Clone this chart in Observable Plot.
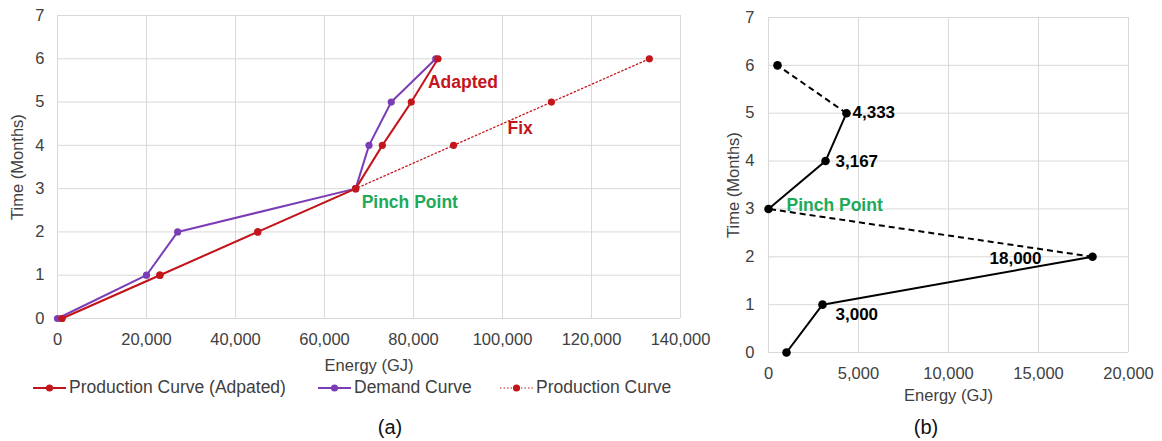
<!DOCTYPE html>
<html><head><meta charset="utf-8">
<script src="https://cdn.jsdelivr.net/npm/d3@7"></script>
<script src="https://cdn.jsdelivr.net/npm/@observablehq/plot@0.6"></script>
<style>
body{margin:0;background:#fff;font-family:"Liberation Sans",Arial,sans-serif;}
#wrap{position:relative;width:1162px;height:441px;overflow:hidden;}
.abs{position:absolute;}
.cap{position:absolute;font-size:20px;color:#111;transform:translateX(-50%);}
.leg{position:absolute;top:377px;font-size:17.5px;color:#404040;display:flex;align-items:center;white-space:nowrap;}
.leg svg{margin-right:3px;}
</style></head>
<body><div id="wrap"></div>
<script>
// ---------- data ----------
const months = [0, 1, 2, 3, 4, 5, 6];
const demandEnergy = [0, 20000, 27000, 67000, 70000, 75000, 85000];
const adaptedEnergy = [1000, 23000, 45000, 67000, 73000, 79500, 85500];
const productionEnergy = [1000, 23000, 45000, 67000, 89000, 111000, 133000];
const netEnergy = [1000, 3000, 18000, 0, 3167, 4333, 500];
const netDashed = [false, false, true, false, false, true]; // segment i -> i+1
const netLabelled = [1, 2, 4, 5];
const xTicksA = [0, 20000, 40000, 60000, 80000, 100000, 120000, 140000];
const xTicksB = [0, 5000, 10000, 15000, 20000];
const yTicks = [0, 1, 2, 3, 4, 5, 6, 7];

const RED = "#c3161c", PURPLE = "#7b3db5", GREEN = "#1eaa58", GRID = "#d9d9d9";
const FONT = "Liberation Sans, Arial, sans-serif";
const fmt = d3.format(",");
const yfmt = d3.format("d");
const LBL = 17.5;

const wrap = document.getElementById("wrap");
function place(el, left, top){ el.classList.add("abs"); el.style.left = left+"px"; el.style.top = top+"px"; wrap.appendChild(el); }

const tbl = (xs) => months.map((m,i)=>({x: xs[i], y: m}));
const demand = tbl(demandEnergy), adapted = tbl(adaptedEnergy), production = tbl(productionEnergy);

// ---------- panel (a) ----------
const plotA = Plot.plot({
  width: 730, height: 375,
  marginLeft: 57, marginRight: 50, marginTop: 15, marginBottom: 57,
  style: {fontFamily: FONT, fontSize: "16.5px", color: "#404040", background: "transparent", overflow: "visible"},
  x: {domain: [0, 140000], ticks: xTicksA, tickFormat: fmt, tickSize: 0, tickPadding: 15,
      label: "Energy (GJ)", labelAnchor: "center", labelArrow: "none", labelOffset: 52},
  y: {domain: [0, 7], ticks: yTicks, tickFormat: yfmt, tickSize: 0, tickPadding: 13,
      label: "Time (Months)", labelAnchor: "center", labelArrow: "none", labelOffset: 46},
  marks: [
    Plot.ruleX(xTicksA, {stroke: GRID, strokeWidth: 1}),
    Plot.ruleY(yTicks, {stroke: GRID, strokeWidth: 1}),
    Plot.line(production, {x: "x", y: "y", stroke: RED, strokeWidth: 1.3, strokeDasharray: "1.5,2.5"}),
    Plot.dot(production, {x: "x", y: "y", r: 3.6, fill: RED}),
    Plot.line(demand, {x: "x", y: "y", stroke: PURPLE, strokeWidth: 2}),
    Plot.dot(demand, {x: "x", y: "y", r: 3.6, fill: PURPLE}),
    Plot.line(adapted, {x: "x", y: "y", stroke: RED, strokeWidth: 2}),
    Plot.dot(adapted, {x: "x", y: "y", r: 3.6, fill: RED}),
    Plot.text([adapted[6]], {x: "x", y: "y", text: () => "Adapted", fill: RED, fontWeight: "bold", fontSize: LBL, textAnchor: "start", dx: -10, dy: 24}),
    Plot.text([production[5]], {x: "x", y: "y", text: () => "Fix", fill: RED, fontWeight: "bold", fontSize: LBL, textAnchor: "start", dx: -44, dy: 26}),
    Plot.text([adapted[3]], {x: "x", y: "y", text: () => "Pinch Point", fill: GREEN, fontWeight: "bold", fontSize: LBL, textAnchor: "start", dx: 6, dy: 14})
  ]
});
place(plotA, 0, 0);

// ---------- panel (b) ----------
const net = tbl(netEnergy);
const segs = netDashed.map((d,i)=>({x1: net[i].x, y1: net[i].y, x2: net[i+1].x, y2: net[i+1].y, dashed: d}));
const labelPos = {1: {dx: 13, dy: 10, a: "start"}, 2: {dx: -51, dy: 2, a: "end"}, 4: {dx: 10, dy: 0, a: "start"}, 5: {dx: 6, dy: -1, a: "start"}};
const plotB = Plot.plot({
  width: 462, height: 410,
  marginLeft: 68, marginRight: 34, marginTop: 17, marginBottom: 58,
  style: {fontFamily: FONT, fontSize: "16.5px", color: "#404040", background: "transparent", overflow: "visible"},
  x: {domain: [0, 20000], ticks: xTicksB, tickFormat: fmt, tickSize: 0, tickPadding: 15,
      label: "Energy (GJ)", labelAnchor: "center", labelArrow: "none", labelOffset: 48},
  y: {domain: [0, 7], ticks: yTicks, tickFormat: yfmt, tickSize: 0, tickPadding: 14,
      label: "Time (Months)", labelAnchor: "center", labelArrow: "none", labelOffset: 41},
  marks: [
    Plot.ruleX(xTicksB, {stroke: GRID, strokeWidth: 1}),
    Plot.ruleY(yTicks, {stroke: GRID, strokeWidth: 1}),
    Plot.link(segs.filter(s=>!s.dashed), {x1: "x1", y1: "y1", x2: "x2", y2: "y2", stroke: "#000", strokeWidth: 2}),
    Plot.link(segs.filter(s=>s.dashed), {x1: "x1", y1: "y1", x2: "x2", y2: "y2", stroke: "#000", strokeWidth: 2, strokeDasharray: "6,4"}),
    Plot.dot(net, {x: "x", y: "y", r: 4.3, fill: "#000"}),
    ...netLabelled.map(i => Plot.text([net[i]], {x: "x", y: "y", text: d => fmt(d.x), fill: "#000", fontWeight: "bold", fontSize: 17,
        textAnchor: labelPos[i].a, dx: labelPos[i].dx, dy: labelPos[i].dy})),
    Plot.text([net[3]], {x: "x", y: "y", text: () => "Pinch Point", fill: GREEN, fontWeight: "bold", fontSize: LBL, textAnchor: "start", dx: 18, dy: -4})
  ]
});
place(plotB, 700, 0);

// ---------- legend ----------
function swatch(color, dashed){
  const dash = dashed ? ' stroke-dasharray="1.5,2"' : '';
  const w = dashed ? 1.2 : 2;
  return `<svg width="33" height="12"><line x1="0" y1="6" x2="33" y2="6" stroke="${color}" stroke-width="${w}"${dash}/><circle cx="16.5" cy="6" r="3.6" fill="${color}"/></svg>`;
}
const legendItems = [
  {label: "Production Curve (Adpated)", color: RED, dashed: false, left: 33},
  {label: "Demand Curve", color: PURPLE, dashed: false, left: 318},
  {label: "Production Curve", color: RED, dashed: true, left: 500}
];
legendItems.forEach(it => {
  const d = document.createElement("div");
  d.className = "leg"; d.style.left = it.left + "px";
  d.innerHTML = swatch(it.color, it.dashed) + `<span>${it.label}</span>`;
  wrap.appendChild(d);
});

// ---------- captions ----------
[["(a)", 390], ["(b)", 926]].forEach(([t, x]) => {
  const c = document.createElement("div"); c.className = "cap"; c.textContent = t;
  c.style.left = x + "px"; c.style.top = "416px"; wrap.appendChild(c);
});
</script></body></html>
